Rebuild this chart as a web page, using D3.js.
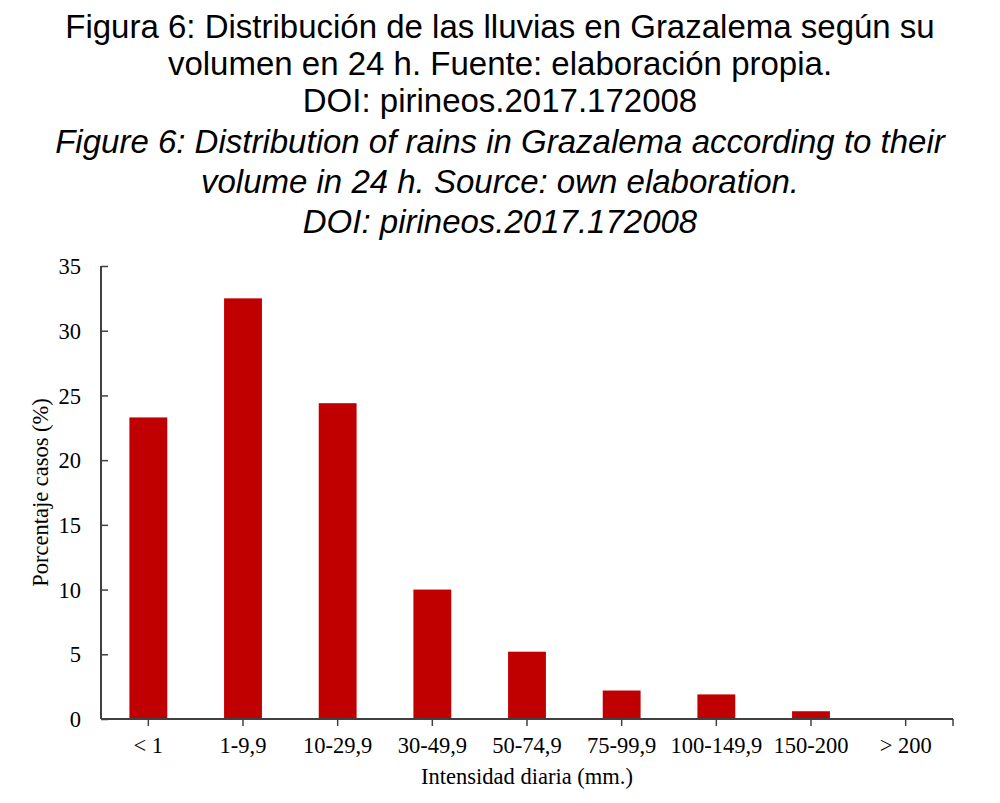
<!DOCTYPE html>
<html>
<head>
<meta charset="utf-8">
<script src="https://cdn.jsdelivr.net/npm/d3@7"></script>
<style>
  body { margin: 0; background: #fff; }
  svg { display: block; }
</style>
</head>
<body>
<div id="chart"></div>
<script>
// Data
const categories = ["< 1", "1-9,9", "10-29,9", "30-49,9", "50-74,9", "75-99,9", "100-149,9", "150-200", "> 200"];
const percentages = [23.3, 32.5, 24.4, 10.0, 5.2, 2.2, 1.9, 0.6, 0];
const yTicks = [0, 5, 10, 15, 20, 25, 30, 35];
const titleLines = [
  "Figura 6: Distribución de las lluvias en Grazalema según su",
  "volumen en 24 h. Fuente: elaboración propia.",
  "DOI: pirineos.2017.172008"
];
const titleLinesEn = [
  "Figure 6: Distribution of rains in Grazalema according to their",
  "volume in 24 h. Source: own elaboration.",
  "DOI: pirineos.2017.172008"
];

const width = 1000;
const height = 803;
const margin = { top: 266, right: 47, bottom: 84, left: 101 };

const svg = d3.select("#chart").append("svg")
  .attr("width", width)
  .attr("height", height);

// Title block (Spanish normal, English italic)
const titleFont = "'Liberation Sans', Arial, sans-serif";
const titleBaselines = [38, 75, 112, 153, 193, 233];

titleLines.concat(titleLinesEn).forEach(function (line, i) {
  svg.append("text")
    .attr("x", width / 2)
    .attr("y", titleBaselines[i])
    .attr("text-anchor", "middle")
    .style("font-family", titleFont)
    .style("font-size", "33px")
    .style("font-style", i >= 3 ? "italic" : "normal")
    .style("fill", "#000")
    .text(line);
});

// Scales
const x = d3.scaleBand()
  .domain(categories)
  .range([margin.left, width - margin.right])
  .paddingInner(0.6)
  .paddingOuter(0.3);

const xCenter = d3.scalePoint()
  .domain(categories)
  .range([margin.left, width - margin.right])
  .padding(0.5);

const y = d3.scaleLinear()
  .domain([0, 35])
  .range([height - margin.bottom, margin.top]);

const serif = "'Liberation Serif', 'Times New Roman', serif";
const axisColor = "#404040";
const labelSize = "22.5px";

// Bars
svg.selectAll(".bar")
  .data(percentages)
  .enter()
  .append("rect")
  .attr("class", "bar")
  .attr("x", (d, i) => xCenter(categories[i]) - x.bandwidth() / 2)
  .attr("y", d => y(d))
  .attr("width", x.bandwidth())
  .attr("height", d => y(0) - y(d))
  .attr("fill", "#c00000");

// Y axis, ticks pointing inward
const yAxis = svg.append("g")
  .attr("transform", "translate(" + margin.left + ",0)")
  .call(d3.axisRight(y).tickValues(yTicks).tickSize(7).tickFormat(d3.format("d")));
yAxis.select(".domain").attr("d", "M0," + y(0) + "V" + y(35)).attr("stroke", axisColor).attr("stroke-width", 2);
yAxis.selectAll(".tick line").attr("stroke", axisColor).attr("stroke-width", 1.5);
yAxis.selectAll(".tick text")
  .attr("x", -20)
  .attr("dy", "0.34em")
  .attr("text-anchor", "end")
  .style("font-family", serif)
  .style("font-size", labelSize)
  .style("fill", "#000");

// X axis, ticks at category centres plus the right end
const xAxisG = svg.append("g")
  .attr("transform", "translate(0," + y(0) + ")");
xAxisG.append("path")
  .attr("d", "M" + margin.left + ",0H" + (width - margin.right))
  .attr("stroke", axisColor)
  .attr("stroke-width", 2)
  .attr("fill", "none");
const xTickPos = categories.map(c => xCenter(c)).concat([width - margin.right]);
xAxisG.selectAll(".xtick")
  .data(xTickPos)
  .enter()
  .append("line")
  .attr("class", "xtick")
  .attr("x1", d => d)
  .attr("x2", d => d)
  .attr("y1", 0)
  .attr("y2", 7)
  .attr("stroke", axisColor)
  .attr("stroke-width", 1.5);
xAxisG.selectAll(".xlabel")
  .data(categories)
  .enter()
  .append("text")
  .attr("class", "xlabel")
  .attr("x", d => xCenter(d))
  .attr("y", 34)
  .attr("text-anchor", "middle")
  .style("font-family", serif)
  .style("font-size", labelSize)
  .style("fill", "#000")
  .text(d => d);

// Axis titles
svg.append("text")
  .attr("x", (margin.left + width - margin.right) / 2)
  .attr("y", 784)
  .attr("text-anchor", "middle")
  .style("font-family", serif)
  .style("font-size", labelSize)
  .style("fill", "#000")
  .text("Intensidad diaria (mm.)");

svg.append("text")
  .attr("transform", "translate(48," + ((y(0) + y(35)) / 2) + ") rotate(-90)")
  .attr("text-anchor", "middle")
  .style("font-family", serif)
  .style("font-size", labelSize)
  .style("fill", "#000")
  .text("Porcentaje casos (%)");
</script>
</body>
</html>
